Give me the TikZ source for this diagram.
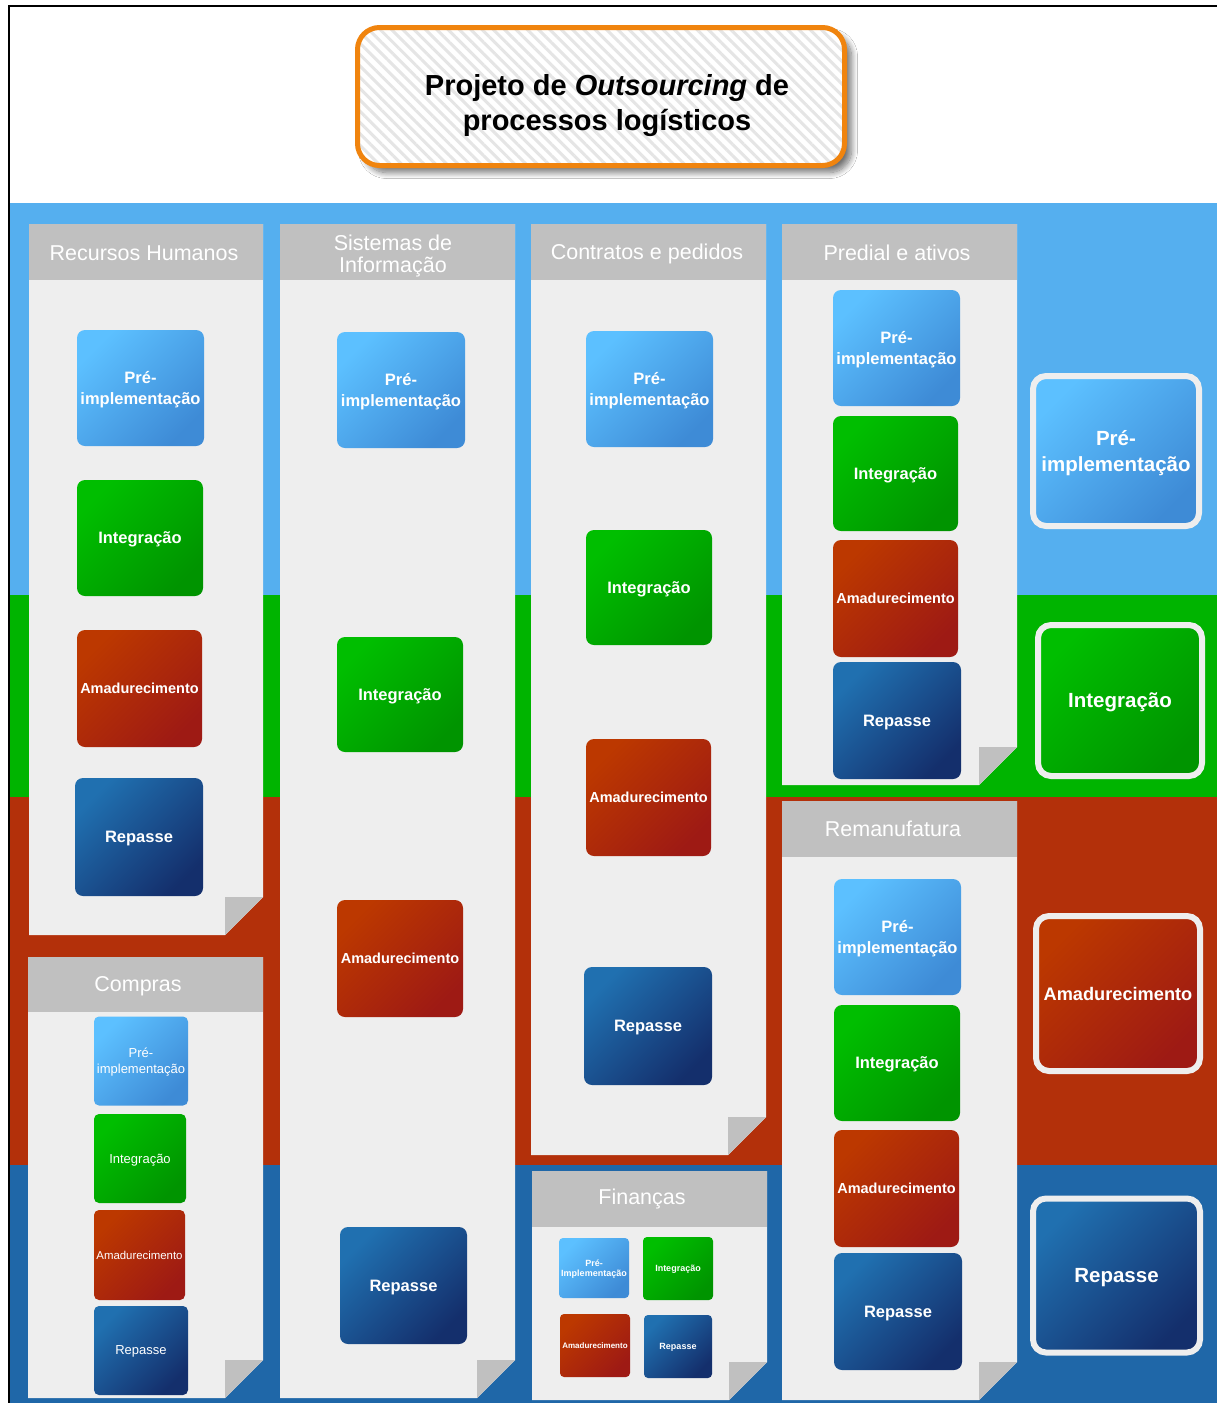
\documentclass[tikz,border=0pt]{standalone}
\usepackage{fontspec}
\setmainfont{Liberation Sans}
\usetikzlibrary{shadows.blur,patterns.meta}

\definecolor{bandSky}{HTML}{55AFEF}
\definecolor{bandGreen}{HTML}{00B400}
\definecolor{bandRust}{HTML}{B3300A}
\definecolor{bandNavy}{HTML}{1F67A8}
\definecolor{sheet}{HTML}{EEEEEE}
\definecolor{sheetHead}{HTML}{C0C0C0}
\definecolor{preA}{HTML}{5CC0FF}
\definecolor{preB}{HTML}{3E8BD6}
\definecolor{intA}{HTML}{00BE00}
\definecolor{intB}{HTML}{009400}
\definecolor{amaA}{HTML}{BC3800}
\definecolor{amaB}{HTML}{9E1A14}
\definecolor{repA}{HTML}{2070B0}
\definecolor{repB}{HTML}{142F6C}
\definecolor{frameOrange}{HTML}{F0840E}

% sheet of paper with a header strip and a folded bottom-right corner
% #1 x left, #2 y top, #3 x right, #4 y bottom, #5 y of header bottom
\newcommand\drawsheet[5]{%
  \fill[sheet] (#1,#2) -- (#3,#2) -- (#3,#4-38) -- (#3-38,#4) -- (#1,#4) -- cycle;
  \fill[sheetHead] (#1,#2) rectangle (#3,#5);
  \fill[sheetHead] (#3-38,#4-38) -- (#3,#4-38) -- (#3-38,#4) -- cycle;
}

\begin{document}
\begin{tikzpicture}[x=1pt,y=-1pt,
  stage/.style={rounded corners=8pt, inner sep=0pt, align=center, text=white, text depth=0pt},
  dims/.style 2 args={minimum width=#1pt, minimum height=#2pt},
  stPre/.style={stage, top color=preA, bottom color=preB, shading angle=45},
  stInt/.style={stage, top color=intA, bottom color=intB, shading angle=45},
  stAma/.style={stage, top color=amaA, bottom color=amaB, shading angle=45},
  stRep/.style={stage, top color=repA, bottom color=repB, shading angle=45},
  bigtxt/.style={font=\fontsize{16.5}{21}\selectfont\bfseries},
  bigama/.style={font=\fontsize{14.5}{18}\selectfont\bfseries},
  midtxt/.style={font=\fontsize{13}{16}\selectfont},
  midama/.style={font=\fontsize{11.4}{14}\selectfont},
  smalltxt/.style={font=\fontsize{9}{10.5}\selectfont\bfseries},
  smallama/.style={font=\fontsize{8}{10}\selectfont\bfseries},
  keybox/.style={draw=sheet, line width=6pt, rounded corners=13pt,
    font=\fontsize{20.5}{26}\selectfont\bfseries},
  headtxt/.style={text=white, align=center, inner sep=0pt,
    font=\fontsize{21.5}{23}\selectfont},
]
\useasboundingbox (0,0) rectangle (1217,1403);
\fill[white] (0,0) rectangle (1217,1403);

% colour bands of the four phases
\fill[bandSky]   (10,203)  rectangle (1217,595);
\fill[bandGreen] (10,595)  rectangle (1217,797);
\fill[bandRust]  (10,797)  rectangle (1217,1165);
\fill[bandNavy]  (10,1165) rectangle (1217,1403);

% frame
\draw[line width=2.6pt] (9,1403) -- (9,6) -- (1217,6);

% title
\fill[white, rounded corners=22pt, blur shadow={shadow xshift=7pt, shadow yshift=-7pt,
  shadow blur steps=12, shadow blur radius=6pt, shadow opacity=55}]
  (357.5,27.5) rectangle (844.5,165.5);
\fill[white, rounded corners=22pt] (357.5,27.5) rectangle (844.5,165.5);
\fill[pattern={Lines[angle=-45,distance=8pt,line width=3pt]}, pattern color=black!10,
  rounded corners=22pt] (357.5,27.5) rectangle (844.5,165.5);
\draw[frameOrange, line width=5pt, rounded corners=22pt] (357.5,27.5) rectangle (844.5,165.5);
\node[align=center, inner sep=0pt, font=\fontsize{29}{35}\selectfont\bfseries] (title) at (607,106)
  {Projeto de \textit{Outsourcing} de\\processos logísticos};

% sheets
\drawsheet{29}{224}{263}{935}{280}
\drawsheet{28}{957}{263}{1398}{1012}
\drawsheet{280}{224}{515}{1398}{280}
\drawsheet{531}{224}{766}{1155}{280}
\drawsheet{532}{1171}{767}{1400}{1227}
\drawsheet{782}{224}{1017}{785}{280}
\drawsheet{782}{801}{1017}{1400}{857}

\node[headtxt] (hRH)  at (144,253)  {Recursos Humanos};
\node[headtxt] (hCO)  at (138,986)  {Compras};
\node[headtxt, font=\fontsize{21.5}{22.5}\selectfont] (hSI) at (393,256) {Sistemas de\\Informação};
\node[headtxt] (hCP)  at (647,254)  {Contratos e pedidos};
\node[headtxt] (hFI)  at (642,1199) {Finanças};
\node[headtxt] (hPA)  at (897,253)  {Predial e ativos};
\node[headtxt] (hRM)  at (893,829)  {Remanufatura};

% Recursos Humanos
\node[stPre, dims={127}{116}, bigtxt] (rh1) at (140.5,388)  {Pré-\\implementação};
\node[stInt, dims={126}{116}, bigtxt] (rh2) at (140,538)    {Integração};
\node[stAma, dims={125}{117}, bigama] (rh3) at (139.5,688.5){Amadurecimento};
\node[stRep, dims={128}{118}, bigtxt] (rh4) at (139,837)    {Repasse};

% Sistemas de Informação
\node[stPre, dims={128}{116}, bigtxt] (si1) at (401,390)    {Pré-\\implementação};
\node[stInt, dims={126}{115}, bigtxt] (si2) at (400,694.5)  {Integração};
\node[stAma, dims={126}{117}, bigama] (si3) at (400,958.5)  {Amadurecimento};
\node[stRep, dims={127}{117}, bigtxt] (si4) at (403.5,1285.5){Repasse};

% Contratos e pedidos
\node[stPre, dims={127}{116}, bigtxt] (cp1) at (649.5,389)  {Pré-\\implementação};
\node[stInt, dims={126}{115}, bigtxt] (cp2) at (649,587.5)  {Integração};
\node[stAma, dims={125}{117}, bigama] (cp3) at (648.5,797.5){Amadurecimento};
\node[stRep, dims={128}{118}, bigtxt] (cp4) at (648,1026)   {Repasse};

% Predial e ativos
\node[stPre, dims={127}{116}, bigtxt] (pa1) at (896.5,348)  {Pré-\\implementação};
\node[stInt, dims={125}{115}, bigtxt] (pa2) at (895.5,473.5){Integração};
\node[stAma, dims={125}{117}, bigama] (pa3) at (895.5,598.5){Amadurecimento};
\node[stRep, dims={128}{117}, bigtxt] (pa4) at (897,720.5)  {Repasse};

% Remanufatura
\node[stPre, dims={127}{116}, bigtxt] (rm1) at (897.5,937)  {Pré-\\implementação};
\node[stInt, dims={126}{116}, bigtxt] (rm2) at (897,1063)   {Integração};
\node[stAma, dims={125}{117}, bigama] (rm3) at (896.5,1188.5){Amadurecimento};
\node[stRep, dims={128}{117}, bigtxt] (rm4) at (898,1311.5) {Repasse};

% Compras
\node[stPre, dims={94}{89}, midtxt, rounded corners=5pt] (co1) at (141,1061)    {Pré-\\implementação};
\node[stInt, dims={92}{89}, midtxt, rounded corners=5pt] (co2) at (140,1158.5)  {Integração};
\node[stAma, dims={91}{90}, midama, rounded corners=5pt] (co3) at (139.5,1255)  {Amadurecimento};
\node[stRep, dims={94}{89}, midtxt, rounded corners=5pt] (co4) at (141,1350.5)  {Repasse};

% Finanças
\node[stPre, dims={70}{60}, smalltxt, rounded corners=4pt] (fi1) at (594,1268)   {Pré-\\Implementação};
\node[stInt, dims={70}{63}, smalltxt, rounded corners=4pt] (fi2) at (678,1268.5) {Integração};
\node[stAma, dims={70}{63}, smallama, rounded corners=4pt] (fi3) at (595,1345.5) {Amadurecimento};
\node[stRep, dims={68}{63}, smalltxt, rounded corners=4pt] (fi4) at (678,1346.5) {Repasse};

% phase key on the right
\node[stPre, keybox, dims={166}{150}] (k1) at (1116,451)    {Pré-\\implementação};
\node[stInt, keybox, dims={164}{151}] (k2) at (1120,700.5)  {Integração};
\node[stAma, keybox, dims={164}{155}, font=\fontsize{18.2}{22}\selectfont\bfseries] (k3) at (1118,993.5) {Amadurecimento};
\node[stRep, keybox, dims={167}{154}] (k4) at (1116.5,1275.5) {Repasse};
\end{tikzpicture}
\end{document}
